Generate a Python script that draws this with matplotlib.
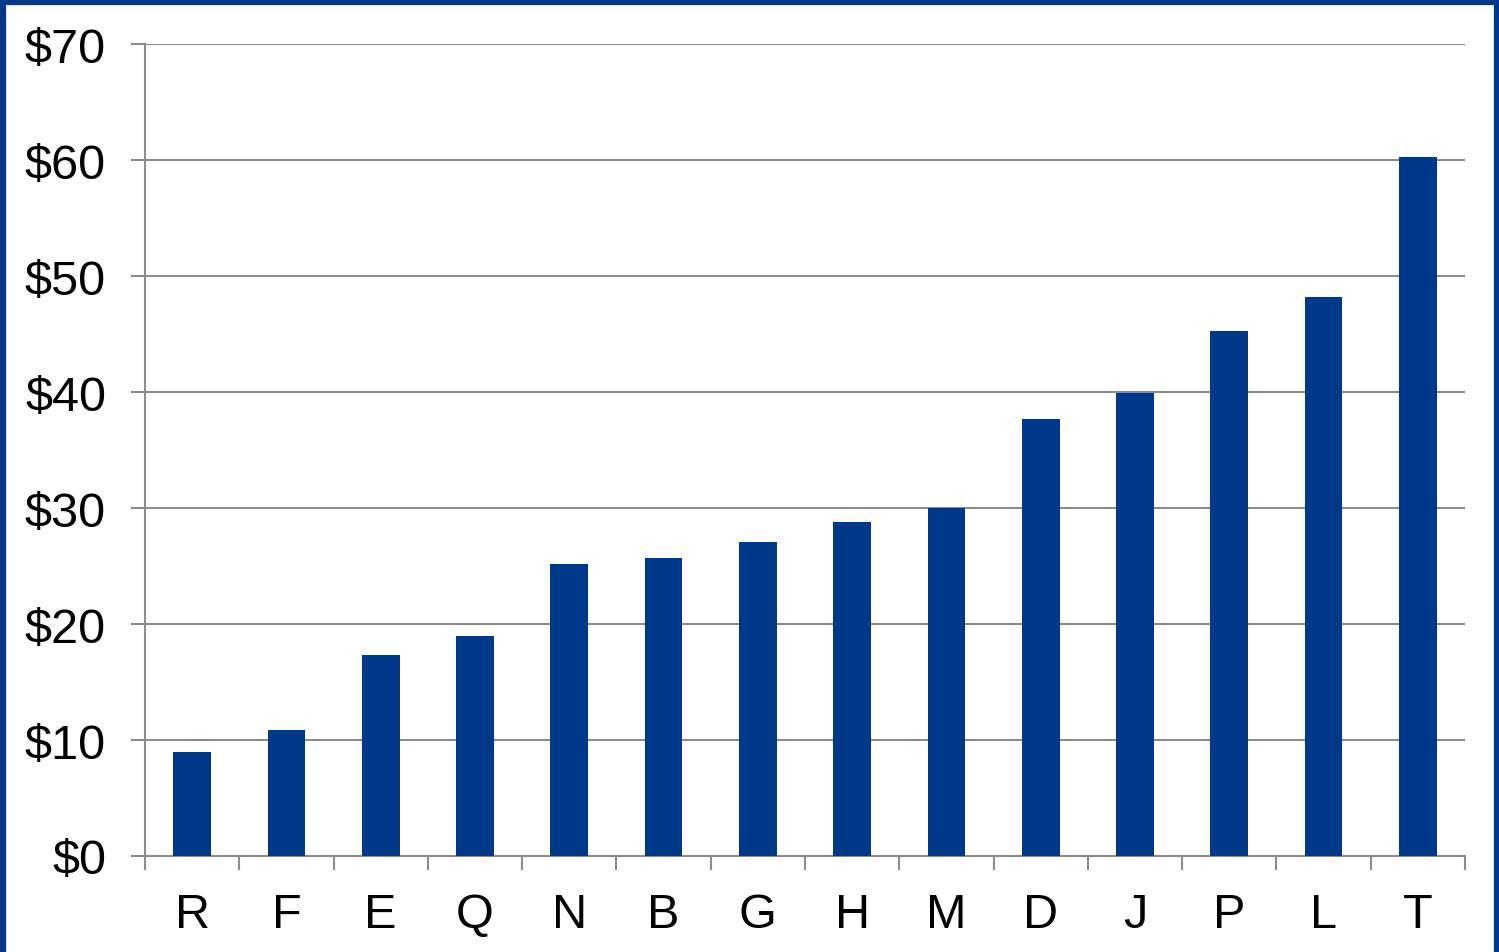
import matplotlib.pyplot as plt
from matplotlib.lines import Line2D
from matplotlib.ticker import FixedLocator, FuncFormatter
import numpy as np

plt.rcParams['font.family'] = ['Liberation Sans', 'DejaVu Sans']

categories = ['R', 'F', 'E', 'Q', 'N', 'B', 'G', 'H', 'M', 'D', 'J', 'P', 'L', 'T']
values = [9.0, 10.9, 17.3, 19.0, 25.2, 25.7, 27.1, 28.8, 30.0, 37.7, 39.9, 45.3, 48.2, 60.3]

blue = '#00398A'
grid_gray = '#8c8c8c'

fig = plt.figure(figsize=(14.99, 9.53), dpi=100)
ax = fig.add_axes([145 / 1499, 1 - 857 / 953, 1320 / 1499, 812 / 953])

x = np.arange(len(categories))
ax.bar(x, values, width=0.40, color=blue, zorder=3)

ax.set_xlim(-0.5, len(categories) - 0.5)
ax.set_ylim(0, 70)
ax.set_yticks(np.arange(0, 71, 10))
ax.yaxis.set_major_formatter(FuncFormatter(lambda v, p: '$%d' % v))
ax.grid(axis='y', color=grid_gray, linewidth=1.5, zorder=0)

ax.set_xticks(x)
ax.set_xticklabels(categories)
ax.xaxis.set_minor_locator(FixedLocator(np.arange(-0.5, len(categories), 1.0)))
ax.tick_params(axis='x', which='major', length=0, pad=26, labelsize=35)
ax.tick_params(axis='x', which='minor', length=10, width=1.5, color=grid_gray, direction='out')
ax.tick_params(axis='y', length=10, width=1.5, color=grid_gray, pad=18, labelsize=35)

for side in ['top', 'right']:
    ax.spines[side].set_visible(False)
for side in ['left', 'bottom']:
    ax.spines[side].set_color(grid_gray)
    ax.spines[side].set_linewidth(1.5)

# blue frame on left, top, right
fig.add_artist(Line2D([3 / 1499, 3 / 1499], [0, 1], color=blue, linewidth=4.5, transform=fig.transFigure))
fig.add_artist(Line2D([0, 1], [1 - 3 / 953, 1 - 3 / 953], color=blue, linewidth=4.5, transform=fig.transFigure))
fig.add_artist(Line2D([1 - 2.5 / 1499, 1 - 2.5 / 1499], [0, 1], color=blue, linewidth=4.5, transform=fig.transFigure))

fig.savefig('out.png', dpi=100)
